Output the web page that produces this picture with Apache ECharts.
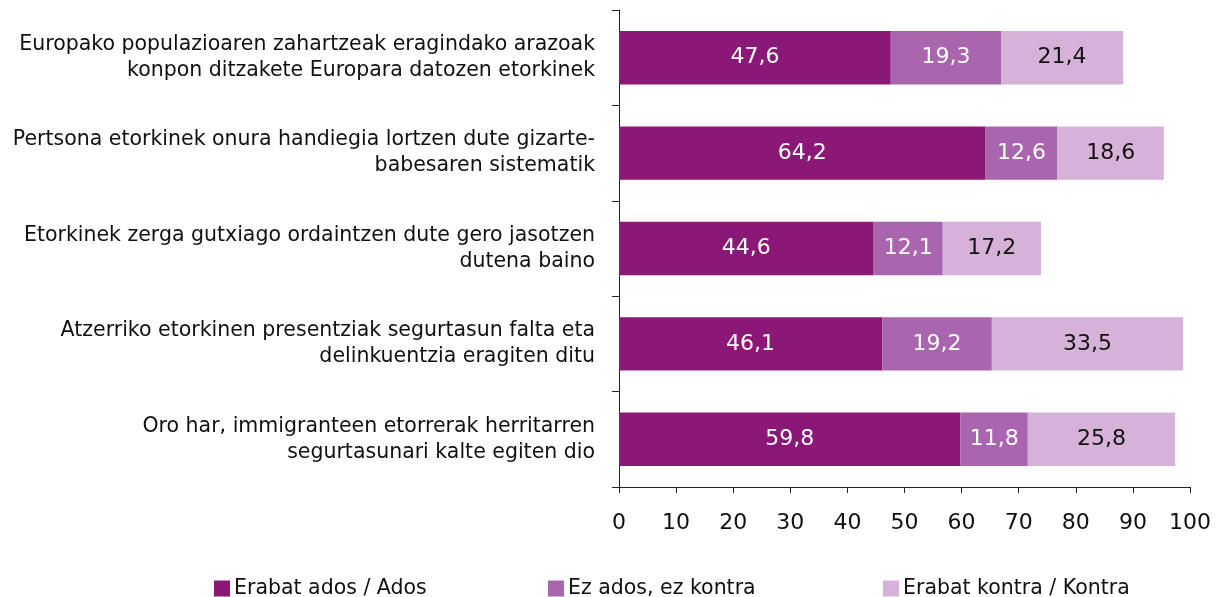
<!DOCTYPE html>
<html>
<head>
<meta charset="utf-8">
<script src="https://cdn.jsdelivr.net/npm/echarts@6/dist/echarts.min.js"></script>
<style>
  html, body { margin: 0; padding: 0; background: #fff; }
  #chart { width: 1230px; height: 597px; }
</style>
</head>
<body>
<div id="chart"></div>
<script>
// datuak
const categories = [
  'Europako populazioaren zahartzeak eragindako arazoak\nkonpon ditzakete Europara datozen etorkinek',
  'Pertsona etorkinek onura handiegia lortzen dute gizarte-\nbabesaren sistematik',
  'Etorkinek zerga gutxiago ordaintzen dute gero jasotzen\ndutena baino',
  'Atzerriko etorkinen presentziak segurtasun falta eta\ndelinkuentzia eragiten ditu',
  'Oro har, immigranteen etorrerak herritarren\nsegurtasunari kalte egiten dio'
];
const seriesNames = ['Erabat ados / Ados', 'Ez ados, ez kontra', 'Erabat kontra / Kontra'];
const ados = [47.6, 64.2, 44.6, 46.1, 59.8];
const neutral = [19.3, 12.6, 12.1, 19.2, 11.8];
const kontra = [21.4, 18.6, 17.2, 33.5, 25.8];
const xTicks = [0, 10, 20, 30, 40, 50, 60, 70, 80, 90, 100];

const colors = ['#8b1777', '#a966ae', '#d7b2d8'];
const labelColors = ['#fff', '#fff', '#111'];
const font = 'DejaVu Sans';

const myChart = echarts.init(document.getElementById('chart'));

const fmt = p => String(p.value).replace('.', ',');

const makeSeries = (name, data, i) => ({
  name: name,
  type: 'bar',
  stack: 'total',
  data: data,
  barCategoryGap: '44%',
  itemStyle: { color: colors[i] },
  label: {
    show: true,
    position: 'inside',
    formatter: fmt,
    color: labelColors[i],
    fontFamily: font,
    fontSize: 22
  }
});

const legendLeft = [209, 543, 878];

const option = {
  animation: false,
  textStyle: { fontFamily: font },
  grid: {
    left: 619,
    right: 40,
    top: 10,
    bottom: 110
  },
  legend: seriesNames.map((n, i) => ({
    data: [n],
    left: legendLeft[i],
    top: 573,
    itemWidth: 16,
    itemHeight: 16,
    itemGap: 5,
    icon: 'rect',
    textStyle: { fontFamily: font, fontSize: 20.5, color: '#111', padding: [0, 0, 0, -1] }
  })),
  xAxis: {
    type: 'value',
    min: xTicks[0],
    max: xTicks[xTicks.length - 1],
    interval: 10,
    axisLine: { show: true, lineStyle: { color: '#222', width: 1 } },
    axisTick: { show: true, length: 6, lineStyle: { color: '#222' } },
    axisLabel: { color: '#111', fontSize: 22, fontFamily: font, margin: 25 },
    splitLine: { show: false }
  },
  yAxis: {
    type: 'category',
    inverse: true,
    data: categories,
    axisLine: { show: true, lineStyle: { color: '#222', width: 1 } },
    axisTick: { show: true, length: 7, lineStyle: { color: '#222' } },
    axisLabel: {
      color: '#111',
      fontSize: 20.5,
      fontFamily: font,
      lineHeight: 26,
      align: 'right',
      margin: 24
    }
  },
  series: [
    makeSeries(seriesNames[0], ados, 0),
    makeSeries(seriesNames[1], neutral, 1),
    makeSeries(seriesNames[2], kontra, 2)
  ]
};

myChart.setOption(option);

window.addEventListener('resize', function () {
  myChart.resize();
});
</script>
</body>
</html>
